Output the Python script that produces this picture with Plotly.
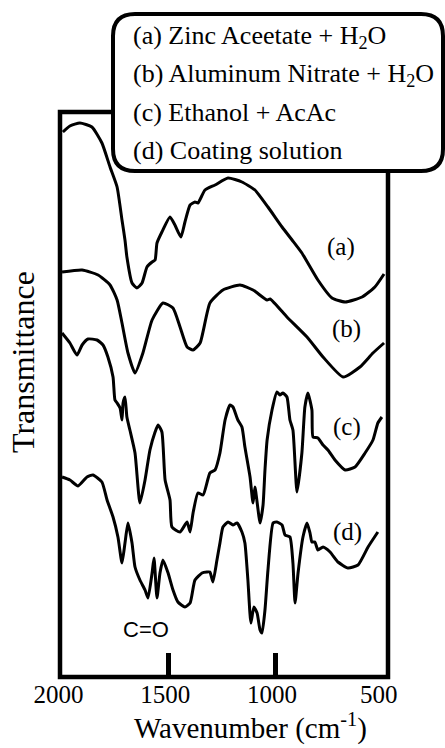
import plotly.graph_objects as go

# ---------------- data ----------------
wn_a = [1994, 1961, 1914, 1858, 1811, 1773, 1740, 1717, 1703, 1694, 1670, 1647, 1623, 1600,
        1576, 1562, 1553, 1530, 1492, 1469, 1441, 1422, 1398, 1375, 1361, 1328, 1281, 1220,
        1155, 1094, 1033, 967, 920, 874, 799, 733, 671, 592, 532, 489]
t_a = [545, 551, 554, 550, 534, 510, 490, 457, 437, 420, 394, 389, 394, 410,
       415, 417, 434, 445, 460, 452, 440, 455, 472, 475, 474, 487, 492, 499,
       495, 487, 470, 450, 437, 424, 397, 379, 375, 380, 390, 403]

wn_b = [1998, 1904, 1829, 1773, 1740, 1717, 1689, 1656, 1619, 1576, 1525, 1478, 1445, 1412,
        1384, 1351, 1305, 1244, 1164, 1103, 1037, 1023, 944, 850, 775, 681, 602, 541, 489]
t_b = [405, 407, 402, 392, 377, 354, 324, 304, 324, 357, 374, 369, 350, 330,
       327, 334, 374, 387, 392, 387, 377, 378, 360, 340, 320, 300, 310, 324, 334]

wn_c = [1998, 1961, 1928, 1904, 1876, 1834, 1806, 1783, 1759, 1750, 1740, 1726, 1717, 1712,
        1703, 1694, 1680, 1656, 1633, 1609, 1586, 1562, 1548, 1530, 1515, 1492, 1483, 1445,
        1412, 1398, 1384, 1361, 1337, 1305, 1281, 1258, 1234, 1211, 1197, 1174, 1155, 1141,
        1117, 1103, 1094, 1070, 1056, 1047, 1037, 1014, 991, 977, 963, 944, 930, 916,
        897, 874, 860, 846, 827, 822, 799, 775, 752, 719, 671, 625, 578, 541, 518, 499]
t_c = [344, 334, 322, 332, 338, 337, 332, 320, 300, 277, 274, 269, 257, 274,
       280, 260, 247, 224, 174, 197, 227, 245, 252, 245, 197, 177, 150, 145,
       155, 145, 164, 184, 182, 204, 207, 224, 257, 272, 270, 257, 250, 230,
       200, 174, 190, 154, 172, 207, 237, 267, 285, 282, 284, 280, 257, 247,
       185, 224, 270, 284, 267, 240, 239, 232, 227, 217, 207, 210, 224, 237, 254, 260]

wn_d = [1998, 1961, 1923, 1881, 1853, 1811, 1787, 1759, 1736, 1717, 1703, 1689, 1670, 1656,
        1633, 1609, 1595, 1576, 1567, 1553, 1539, 1525, 1501, 1478, 1455, 1422, 1398, 1375,
        1342, 1319, 1305, 1291, 1272, 1258, 1244, 1220, 1197, 1178, 1155, 1141, 1127, 1113,
        1099, 1084, 1070, 1061, 1047, 1033, 1009, 991, 967, 953, 930, 916, 906, 892,
        869, 850, 836, 827, 813, 799, 775, 742, 705, 658, 611, 564, 518]
t_d = [200, 197, 191, 200, 202, 195, 177, 160, 140, 114, 134, 154, 134, 110,
       97, 87, 79, 104, 119, 79, 104, 117, 104, 87, 75, 70, 74, 97,
       104, 105, 105, 95, 117, 134, 150, 155, 152, 154, 145, 134, 97, 54,
       70, 64, 47, 44, 67, 107, 154, 155, 152, 142, 140, 114, 74, 104,
       140, 154, 144, 135, 135, 127, 130, 125, 115, 109, 112, 130, 145]

series = [("(a)", wn_a, t_a), ("(b)", wn_b, t_b), ("(c)", wn_c, t_c), ("(d)", wn_d, t_d)]

label_wn = [691, 663, 663, 658]
label_t = [430, 348, 250, 145]

legend_lines = ["(a) Zinc Aceetate + H<sub>2</sub>O",
                "(b) Aluminum Nitrate + H<sub>2</sub>O",
                "(c) Ethanol + AcAc",
                "(d) Coating solution"]

tick_vals = [2000, 1500, 1000, 500]
tick_text = ["2000", "1500", "1000", "500"]
mark_vals = [1500, 1000]

# ---------------- figure ----------------
W, H = 445, 748
ML, MR, MT, MB = 60, 57, 112, 71
PW, PH = W - ML - MR, H - MT - MB
SERIF = "Liberation Serif, Times New Roman, serif"


def px(x):
    return (x - ML) / PW


def py(y):
    return (H - MB - y) / PH


fig = go.Figure()
for name, xs, ys in series:
    fig.add_trace(go.Scatter(x=xs, y=ys, mode="lines", name=name,
                             line=dict(color="black", width=3, shape="spline", smoothing=0.5),
                             showlegend=False, hoverinfo="skip"))

# frame
fig.add_shape(type="rect", xref="paper", yref="paper", x0=0, x1=1, y0=0, y1=1,
              line=dict(color="black", width=4.5), layer="above")

# rounded legend box
L, R, T, B, r = 113, 443, 14, 171, 22
xL, xR, yT, yB = px(L), px(R), py(T), py(B)
rx, ry = r / PW, r / PH
path = (f"M {xL+rx},{yT} L {xR-rx},{yT} Q {xR},{yT} {xR},{yT-ry} "
        f"L {xR},{yB+ry} Q {xR},{yB} {xR-rx},{yB} L {xL+rx},{yB} "
        f"Q {xL},{yB} {xL},{yB+ry} L {xL},{yT-ry} Q {xL},{yT} {xL+rx},{yT} Z")
fig.add_shape(type="path", xref="paper", yref="paper", path=path,
              line=dict(color="black", width=4), fillcolor="white", layer="above")

for i, txt in enumerate(legend_lines):
    fig.add_annotation(text=txt, xref="paper", yref="paper", x=px(131), y=py(37 + 37.7 * i),
                       xanchor="left", yanchor="middle", showarrow=False,
                       font=dict(family=SERIF, size=26, color="black"))

for (name, _, _), lx, ly in zip(series, label_wn, label_t):
    fig.add_annotation(text=name, x=lx, y=ly, xref="x", yref="y", showarrow=False,
                       xanchor="center", yanchor="middle",
                       font=dict(family=SERIF, size=25, color="black"))

fig.add_annotation(text="C=O", x=1605, y=48, xref="x", yref="y", showarrow=False,
                   xanchor="center", yanchor="middle",
                   font=dict(family="Liberation Sans, Arial, sans-serif", size=22, color="black"))

fig.add_annotation(text="Wavenumber (cm<sup>-1</sup>)", xref="paper", yref="paper",
                   x=px(250), y=py(726), xanchor="center", yanchor="middle", showarrow=False,
                   font=dict(family=SERIF, size=29, color="black"))
fig.add_annotation(text="Transmittance", xref="paper", yref="paper", textangle=-90,
                   x=px(23), y=py(362), xanchor="center", yanchor="middle", showarrow=False,
                   font=dict(family=SERIF, size=32, color="black"))

fig.update_layout(
    width=W, height=H, autosize=False,
    margin=dict(l=ML, r=MR, t=MT, b=MB, pad=0),
    paper_bgcolor="white", plot_bgcolor="white",
    xaxis=dict(range=[2007.5, 470.5], showgrid=False, zeroline=False, showline=False,
               tickvals=tick_vals, ticktext=tick_text, ticks="", ticklabelshift=3,
               tickfont=dict(family=SERIF, size=25, color="black"),
               minor=dict(tickvals=mark_vals, ticks="inside", ticklen=24, tickwidth=5,
                          tickcolor="black", showgrid=False)),
    yaxis=dict(range=[0, 565], visible=False, showgrid=False, zeroline=False),
)

fig.write_html("out.html")
